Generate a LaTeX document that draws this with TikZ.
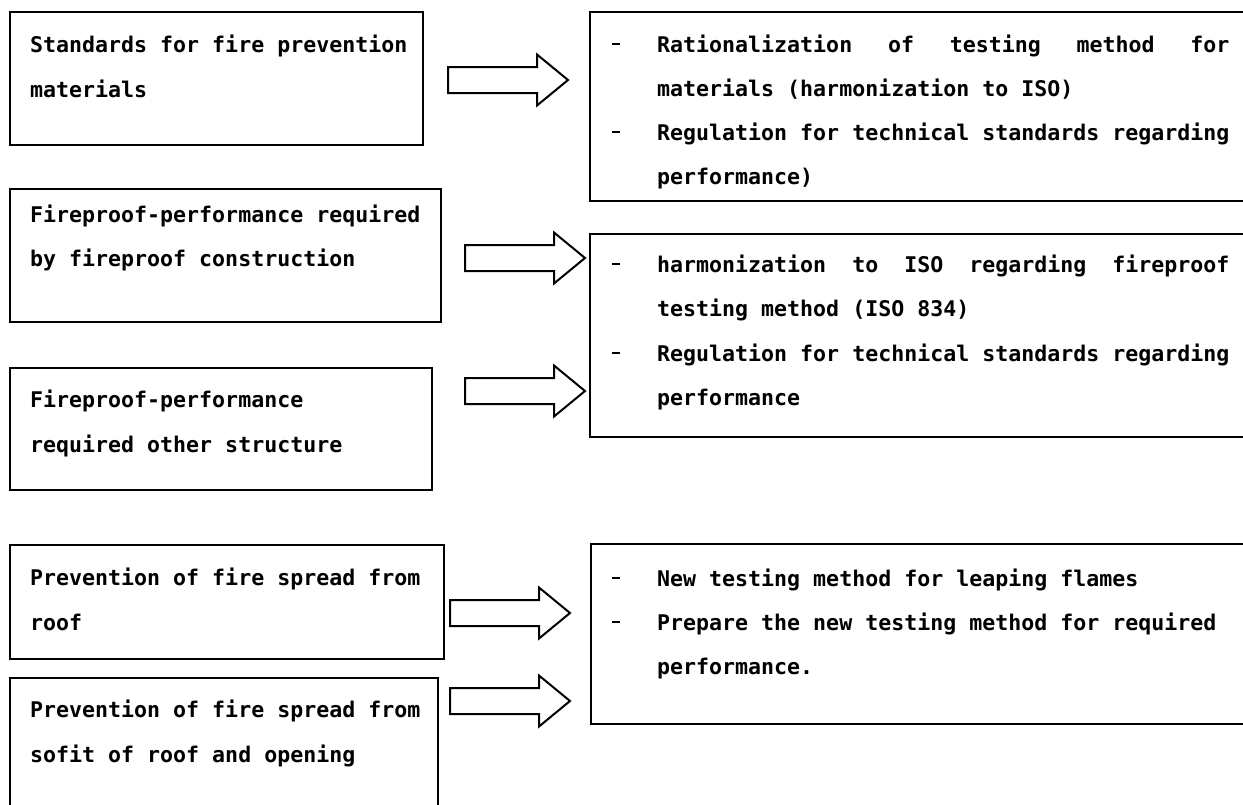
\documentclass[tikz,border=0pt]{standalone}
\usepackage{fontspec}
\newfontfamily\mono{DejaVu Sans Mono}
\newcommand\tf{\mono\bfseries\fontsize{21.6}{26}\selectfont}
\newlength\jw
\AtBeginDocument{\settowidth{\jw}{\tf Regulation for technical standards regarding}}
\newcommand\dsh{\hbox to 45pt{\rule[7pt]{8pt}{1.6pt}\hfil}}
\newcommand\nodsh{\hbox to 45pt{}}
\tikzset{
  box/.style={draw, line width=1.8pt, anchor=north west, inner sep=0pt, rectangle},
  txt/.style={anchor=base west, inner sep=0pt, font=\tf},
  arr/.style={draw, line width=2pt, line join=miter, fill=white},
  blockarrow/.pic={\draw[arr] (-120,-13) -- (-31,-13) -- (-31,-25.5) -- (0,0) -- (-31,25.5) -- (-31,13) -- (-120,13) -- cycle;}
}
\begin{document}
\begin{tikzpicture}[x=1pt,y=-1pt]
\useasboundingbox (0,0) rectangle (1243,804);
\fill[white] (0,0) rectangle (1243,804);
% left boxes
\node[box, minimum width=413pt, minimum height=133pt] (b1) at (9,11) {};
\node[box, minimum width=431pt, minimum height=133pt] (b2) at (9,188) {};
\node[box, minimum width=422pt, minimum height=122pt] (b3) at (9,367) {};
\node[box, minimum width=434pt, minimum height=114pt] (b4) at (9,544) {};
\node[box, minimum width=428pt, minimum height=150pt] (b5) at (9,677) {};
% right boxes
\node[box, minimum width=680pt, minimum height=189pt] (r1) at (589,11) {};
\node[box, minimum width=680pt, minimum height=203pt] (r2) at (589,233) {};
\node[box, minimum width=680pt, minimum height=180pt] (r3) at (590,543) {};
% left texts
\node[txt] (t1) at (30,52) {\vtop{\baselineskip=45pt \hbox{Standards for fire prevention}\hbox{materials}}};
\node[txt] (t2) at (30,222) {\vtop{\baselineskip=44pt \hbox{Fireproof-performance required}\hbox{by fireproof construction}}};
\node[txt] (t3) at (30,407) {\vtop{\baselineskip=45pt \hbox{Fireproof-performance}\hbox{required other structure}}};
\node[txt] (t4) at (30,585) {\vtop{\baselineskip=45pt \hbox{Prevention of fire spread from}\hbox{roof}}};
\node[txt] (t5) at (30,717) {\vtop{\baselineskip=45pt \hbox{Prevention of fire spread from}\hbox{sofit of roof and opening}}};
% right texts
\node[txt] (u1) at (612,52) {\vtop{\baselineskip=44pt
  \hbox{\dsh\hbox to \jw{Rationalization \hfill of \hfill testing \hfill method \hfill for}}
  \hbox{\nodsh materials (harmonization to ISO)}
  \hbox{\dsh Regulation for technical standards regarding}
  \hbox{\nodsh performance)}}};
\node[txt] (u2) at (612,272) {\vtop{\baselineskip=44.5pt
  \hbox{\dsh\hbox to \jw{harmonization \hfill to \hfill ISO \hfill regarding \hfill fireproof}}
  \hbox{\nodsh testing method (ISO 834)}
  \hbox{\dsh Regulation for technical standards regarding}
  \hbox{\nodsh performance}}};
\node[txt] (u3) at (612,586) {\vtop{\baselineskip=44pt
  \hbox{\dsh New testing method for leaping flames}
  \hbox{\dsh Prepare the new testing method for required}
  \hbox{\nodsh performance.}}};
% block arrows
\coordinate (p1) at (568,80);
\coordinate (p2) at (585,258);
\coordinate (p3) at (585,391);
\coordinate (p4) at (570,613);
\coordinate (p5) at (570,701);
\pic at (p1) {blockarrow};
\pic at (p2) {blockarrow};
\pic at (p3) {blockarrow};
\pic at (p4) {blockarrow};
\pic at (p5) {blockarrow};
\end{tikzpicture}
\end{document}
